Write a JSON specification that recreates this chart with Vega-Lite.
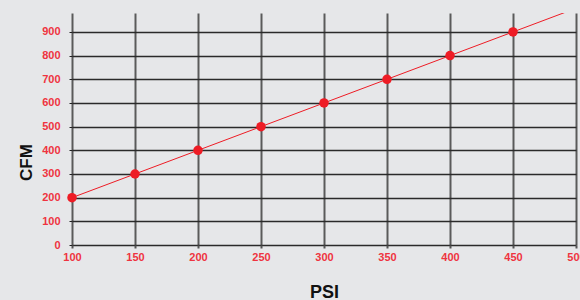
{
  "$schema": "https://vega.github.io/schema/vega-lite/v6.json",
  "autosize": {"type": "none"},
  "width": 504,
  "height": 232,
  "padding": {"left": 72, "top": 13, "right": 4, "bottom": 55},
  "background": "#e6e7e9",
  "config": {
    "view": {"stroke": null},
    "font": "Liberation Sans"
  },
  "data": {
    "values": [
      {"psi": 100, "cfm": 200},
      {"psi": 150, "cfm": 300},
      {"psi": 200, "cfm": 400},
      {"psi": 250, "cfm": 500},
      {"psi": 300, "cfm": 600},
      {"psi": 350, "cfm": 700},
      {"psi": 400, "cfm": 800},
      {"psi": 450, "cfm": 900},
      {"psi": 500, "cfm": 1000}
    ]
  },
  "encoding": {
    "x": {
      "field": "psi", "type": "quantitative",
      "scale": {"domain": [100, 500], "nice": false, "zero": false},
      "axis": {
        "values": [100, 150, 200, 250, 300, 350, 400, 450, 500],
        "title": "PSI",
        "titleFontSize": 18, "titleFontWeight": "bold", "titleColor": "#111",
        "titleBaseline": "alphabetic", "titleY": 52,
        "labelColor": "#ef3340", "labelFontSize": 11, "labelFontWeight": "bold",
        "labelFlush": false, "labelOverlap": false, "labelBound": false,
        "labelPadding": 3, "tickSize": 3, "tickColor": "#555", "tickWidth": 2,
        "domain": false,
        "grid": true, "gridColor": "#5a5a5a", "gridWidth": 2
      }
    },
    "y": {
      "field": "cfm", "type": "quantitative",
      "scale": {"domain": [0, 980], "nice": false},
      "axis": {
        "values": [0, 100, 200, 300, 400, 500, 600, 700, 800, 900],
        "title": "CFM",
        "titleFontSize": 17, "titleFontWeight": "bold", "titleColor": "#111",
        "titleAngle": -90, "titleAlign": "center", "titleBaseline": "middle",
        "titleX": -46, "titleY": 149,
        "labelColor": "#ef3340", "labelFontSize": 11, "labelFontWeight": "bold",
        "labelFlush": false, "labelOverlap": false,
        "labelPadding": 9, "tickSize": 3, "tickColor": "#222",
        "domain": false,
        "grid": true, "gridColor": "#2a2a2a", "gridWidth": 1.3
      }
    }
  },
  "layer": [
    {
      "mark": {"type": "line", "color": "#ee1c25", "strokeWidth": 1, "clip": true}
    },
    {
      "transform": [{"filter": "datum.psi <= 450"}],
      "mark": {"type": "point", "filled": true, "color": "#ee1c25", "opacity": 1, "size": 90}
    }
  ]
}
